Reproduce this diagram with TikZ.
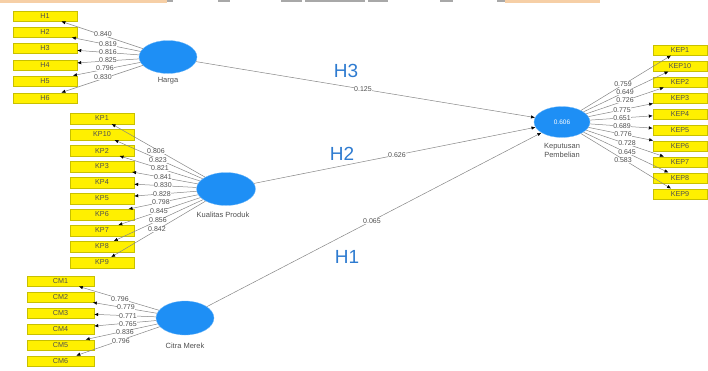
\documentclass[tikz,border=0pt]{standalone}
\usepackage{fontspec}
\setmainfont{Liberation Sans}
\usetikzlibrary{arrows.meta,shapes.geometric}
\definecolor{boxyel}{HTML}{FFF000}
\definecolor{boxedge}{HTML}{C8C000}
\definecolor{lvblue}{HTML}{1E8FF5}
\definecolor{hblue}{HTML}{2E7BD0}
\definecolor{edgegray}{HTML}{858585}
\definecolor{txtgray}{HTML}{505050}
\definecolor{peach}{HTML}{F6CFA6}
\definecolor{stripgray}{HTML}{A8A8A8}
\tikzset{
  ind/.style={draw=boxedge, line width=0.4pt, fill=boxyel, inner sep=0pt,
    minimum height=10.5pt, text=txtgray, font=\fontsize{7.2}{7.2}\selectfont},
  hbox/.style={ind, minimum width=64pt},
  kpbox/.style={ind, minimum width=64pt},
  cmbox/.style={ind, minimum width=67pt},
  kepbox/.style={ind, minimum width=54pt},
  lv/.style={ellipse, fill=lvblue, draw=lvblue!60, line width=0.3pt, inner sep=0pt},
  load/.style={draw=edgegray, line width=0.5pt, -{Latex[length=4pt,width=3.4pt,black]}},
  lbl/.style={text=txtgray, font=\fontsize{7}{7}\selectfont, inner sep=0.3pt, fill=white},
  lvname/.style={text=txtgray, font=\fontsize{7.5}{8.5}\selectfont, align=center},
  hyp/.style={text=hblue, font=\fontsize{19}{19}\selectfont},
}
\begin{document}
\begin{tikzpicture}[x=1pt,y=-1pt]
\useasboundingbox (0,0) rectangle (708,370);
% top strip artefacts
\fill[peach] (150,0) rectangle (167,2.5);
\fill[peach] (505,0) rectangle (600,2.5);
\fill[stripgray] (167,0) rectangle (173,2);
\fill[stripgray] (218,0) rectangle (230,2);
\fill[stripgray] (281,0) rectangle (302,2);
\fill[stripgray] (305,0) rectangle (365,2);
\fill[stripgray] (368,0) rectangle (388,2);
\fill[stripgray] (440,0) rectangle (453,2);
\fill[stripgray] (497,0) rectangle (505,2);
\fill[peach] (0,0) rectangle (165,3);

% latent variables
\node[lv, minimum width=58pt, minimum height=33pt] (harga) at (168,57) {};
\node[lv, minimum width=59pt, minimum height=33pt] (kp) at (226,189) {};
\node[lv, minimum width=58pt, minimum height=34pt] (cm) at (185,318) {};
\node[lv, minimum width=56pt, minimum height=31pt, text=white, font=\fontsize{6.5}{6.5}\selectfont] (kep) at (562,122) {0.606};

\node[lvname] (harga-n) at (168,81) {Harga};
\node[lvname] (kp-n) at (223,215) {Kualitas Produk};
\node[lvname] (cm-n) at (185,346) {Citra Merek};
\node[lvname] (kep-n) at (562,150.5) {Keputusan\\Pembelian};

% Harga indicators
\foreach \n/\y in {1/16,2/32,3/48,4/65,5/81,6/98}
  \node[hbox] (H\n) at (45,\y) {H\n};
% KP indicators
\foreach \n/\t/\y in {a/KP1/118.5,b/KP10/134.5,c/KP2/150.5,d/KP3/166.5,e/KP4/182.5,f/KP5/198.5,g/KP6/214.5,h/KP7/230.5,i/KP8/246.5,j/KP9/262.5}
  \node[kpbox] (kp\n) at (102,\y) {\t};
% CM indicators
\foreach \n/\y in {1/281,2/297,3/313,4/329,5/345,6/361}
  \node[cmbox] (CM\n) at (60.5,\y) {CM\n};
% KEP indicators
\foreach \n/\t/\y in {a/KEP1/50,b/KEP10/66,c/KEP2/82,d/KEP3/98,e/KEP4/114,f/KEP5/130,g/KEP6/146,h/KEP7/162,i/KEP8/178,j/KEP9/194}
  \node[kepbox] (kep\n) at (680,\y) {\t};

% loadings edges
\foreach \n in {1,...,6} \draw[load] (harga) -- (H\n);
\foreach \n in {a,b,c,d,e,f,g,h,i,j} \draw[load] (kp) -- (kp\n);
\foreach \n in {1,...,6} \draw[load] (cm) -- (CM\n);
\foreach \n in {a,b,c,d,e,f,g,h,i,j} \draw[load] (kep) -- (kep\n);

% structural edges
\draw[load] (harga) -- (kep);
\draw[load] (kp) -- (kep);
\draw[load] (cm) -- (kep);

% loading labels
\node[lbl] (lh1) at (103,34.5) {0.840};
\node[lbl] (lh2) at (108,44) {0.819};
\node[lbl] (lh3) at (108,52) {0.816};
\node[lbl] (lh4) at (108,60.5) {0.825};
\node[lbl] (lh5) at (105,68.5) {0.796};
\node[lbl] (lh6) at (103,77.5) {0.830};

\node[lbl] (lk1) at (156,151.5) {0.806};
\node[lbl] (lk2) at (158,160) {0.823};
\node[lbl] (lk3) at (160,168.5) {0.821};
\node[lbl] (lk4) at (163,177) {0.841};
\node[lbl] (lk5) at (163,185.5) {0.830};
\node[lbl] (lk6) at (162,194) {0.828};
\node[lbl] (lk7) at (161,202.5) {0.798};
\node[lbl] (lk8) at (159,211.5) {0.845};
\node[lbl] (lk9) at (158,220.5) {0.856};
\node[lbl] (lk10) at (157,229.5) {0.842};

\node[lbl] (lc1) at (120,299) {0.796};
\node[lbl] (lc2) at (126,307.5) {0.779};
\node[lbl] (lc3) at (128,316) {0.771};
\node[lbl] (lc4) at (128,324) {0.765};
\node[lbl] (lc5) at (125,332.5) {0.836};
\node[lbl] (lc6) at (121,341) {0.796};

\node[lbl] (le1) at (623,84) {0.759};
\node[lbl] (le2) at (625,92) {0.649};
\node[lbl] (le3) at (625,100.5) {0.726};
\node[lbl] (le4) at (622,110) {0.775};
\node[lbl] (le5) at (622,118.5) {0.651};
\node[lbl] (le6) at (622,126.5) {0.689};
\node[lbl] (le7) at (623,134.5) {0.776};
\node[lbl] (le8) at (627,143.5) {0.728};
\node[lbl] (le9) at (627,152) {0.645};
\node[lbl] (le10) at (623,160.5) {0.583};

% path coefficients
\node[lbl] (p1) at (363,89) {0.125};
\node[lbl] (p2) at (397,155.5) {0.626};
\node[lbl] (p3) at (372,221) {0.065};

% hypothesis labels
\node[hyp] (h3) at (346,71) {H3};
\node[hyp] (h2) at (342,154) {H2};
\node[hyp] (h1) at (347,257) {H1};
\end{tikzpicture}
\end{document}
